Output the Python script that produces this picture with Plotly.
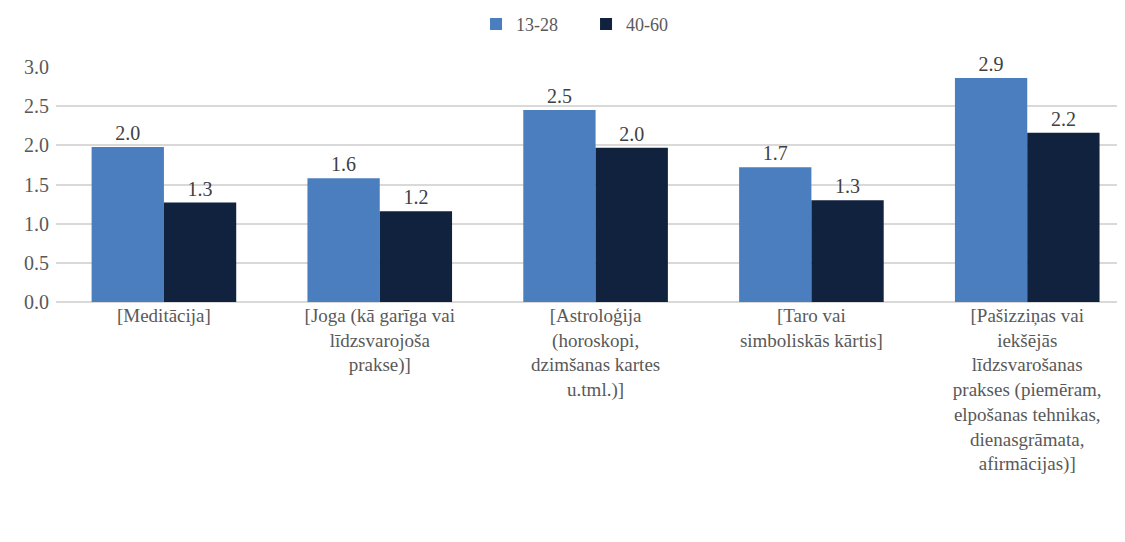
import plotly.graph_objects as go

categories = [
    "[Meditācija]",
    "[Joga (kā garīga vai<br>līdzsvarojoša<br>prakse)]",
    "[Astroloģija<br>(horoskopi,<br>dzimšanas kartes<br>u.tml.)]",
    "[Taro vai<br>simboliskās kārtis]",
    "[Pašizziņas vai<br>iekšējās<br>līdzsvarošanas<br>prakses (piemēram,<br>elpošanas tehnikas,<br>dienasgrāmata,<br>afirmācijas)]",
]
series_names = ["13-28", "40-60"]
values_13_28 = [1.98, 1.58, 2.45, 1.72, 2.86]
values_40_60 = [1.27, 1.16, 1.97, 1.30, 2.16]
y_ticks = [0.0, 0.5, 1.0, 1.5, 2.0, 2.5, 3.0]
y_tick_labels = ["0.0", "0.5", "1.0", "1.5", "2.0", "2.5", "3.0"]

colors = ["#4A7EBF", "#11223F"]
font_family = "Liberation Serif"

fig = go.Figure()
for name, vals, col in zip(series_names, [values_13_28, values_40_60], colors):
    fig.add_trace(go.Bar(
        x=list(range(len(categories))), y=vals, name=name,
        marker=dict(color=col, line=dict(width=0)),
        text=[f"{v:.1f}" for v in vals], textposition="outside",
        textfont=dict(family=font_family, size=20, color="#404040"),
        cliponaxis=False,
    ))

fig.update_layout(
    width=1125, height=542,
    margin=dict(l=48, r=0, t=59, b=248, autoexpand=False),
    paper_bgcolor="white", plot_bgcolor="white",
    barmode="group", bargap=0.33, bargroupgap=0,
    font=dict(family=font_family, size=19, color="#595959"),
    showlegend=True,
    legend=dict(orientation="h", x=0.390, xanchor="left", y=0.97, yref="container",
                yanchor="middle", font=dict(family=font_family, size=18, color="#595959"),
                entrywidth=65, entrywidthmode="pixels", traceorder="normal"),
    xaxis=dict(tickmode="array", tickvals=list(range(len(categories))), ticktext=categories,
               range=[-0.5, 4.49], showgrid=False, showline=False, ticks="", automargin=False,
               tickfont=dict(family=font_family, size=19, color="#595959")),
    yaxis=dict(range=[0, 3], tickmode="array", tickvals=y_ticks, ticktext=y_tick_labels,
               showgrid=True, gridcolor="#D9D9D9", gridwidth=1.5, zeroline=True,
               zerolinecolor="#D9D9D9", zerolinewidth=1.5, showline=False, ticks="",
               automargin=False,
               tickfont=dict(family=font_family, size=20, color="#595959"), ticklabelstandoff=6),
)

fig.write_html("out.html")
